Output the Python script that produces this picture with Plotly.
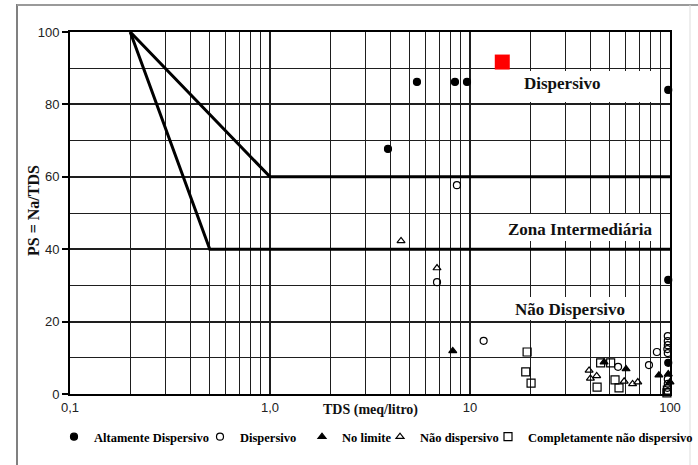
import plotly.graph_objects as go

# --- data (TDS in meq/litro, PS in %) ---
alt_disp_tds = [3.89, 5.43, 8.41, 9.66, 98.0, 98.0, 98.0]
alt_disp_ps = [67.7, 86.2, 86.2, 86.2, 84.0, 31.5, 8.6]

disp_tds = [8.6, 6.84, 11.7, 55.0, 78.5, 86.0, 97.5, 97.5, 97.5, 97.0, 97.5, 97.5, 97.5, 97.0, 97.5]
disp_ps = [57.7, 30.9, 14.7, 7.5, 8.0, 11.6, 16.0, 14.6, 13.5, 12.4, 11.3, 4.1, 2.8, 1.7, 0.6]

limite_tds = [8.2, 46.8, 60.3, 88.0, 98.0, 100.0]
limite_ps = [11.9, 8.8, 6.9, 5.2, 5.5, 3.3]

nao_disp_tds = [4.52, 6.84, 39.4, 40.0, 43.0, 59.0, 65.0, 69.0]
nao_disp_ps = [42.3, 34.8, 6.5, 4.3, 5.0, 3.5, 2.8, 3.3]

comp_nao_tds = [19.3, 19.0, 20.2, 45.0, 50.5, 43.2, 53.1, 55.6, 97.0, 96.5]
comp_nao_ps = [11.6, 6.1, 3.0, 8.6, 8.6, 1.9, 3.9, 1.7, 1.1, 0.3]

# zone boundaries
limite_sup_tds = [0.2, 1.0, 100.0]
limite_sup_ps = [100, 60, 60]
limite_inf_tds = [0.2, 0.5, 100.0]
limite_inf_ps = [100, 40, 40]

marcador_tds = [14.5]
marcador_ps = [91.7]

x_ticks = [0.1, 1, 10, 100]
x_ticktext = ["0,1", "1,0", "10", "100"]
y_ticks = [0, 20, 40, 60, 80, 100]
zonas = ["Dispersivo", "Zona Intermediária", "Não Dispersivo"]
legend_names = ["Altamente Dispersivo", "Dispersivo", "No limite",
                "Não dispersivo", "Completamente não dispersivo"]
x_title = "TDS (meq/litro)"
y_title = "PS = Na/TDS"

# --- layout geometry (pixels) ---
W, H = 698, 465
ML, MR, MT, MB = 70, 28, 32, 71
PW, PH = W - ML - MR, H - MT - MB


def px(x):
    return (x - ML) / PW


def py(y):
    return (H - MB - y) / PH


SERIF = "Liberation Serif"
SANS = "Liberation Sans"
GRID = "#1e1e1e"

fig = go.Figure()

for xs, ys in [(limite_sup_tds, limite_sup_ps), (limite_inf_tds, limite_inf_ps)]:
    fig.add_trace(go.Scatter(x=xs, y=ys, mode="lines", showlegend=False,
                             line=dict(color="black", width=3), hoverinfo="skip"))

series = [
    (alt_disp_tds, alt_disp_ps, "circle", 7, "legend"),
    (disp_tds, disp_ps, "circle-open", 7, "legend2"),
    (limite_tds, limite_ps, "triangle-up", 7, "legend3"),
    (nao_disp_tds, nao_disp_ps, "triangle-up-open", 7, "legend4"),
    (comp_nao_tds, comp_nao_ps, "square-open", 8, "legend5"),
]
for (xs, ys, sym, size, leg), name in zip(series, legend_names):
    fig.add_trace(go.Scatter(
        x=xs, y=ys, mode="markers", name=name, legend=leg,
        marker=dict(symbol=sym, color="black", size=size, line=dict(color="black", width=1.2)),
        cliponaxis=False))

fig.add_trace(go.Scatter(x=marcador_tds, y=marcador_ps, mode="markers", showlegend=False,
                         marker=dict(symbol="square", color="red", size=15)))

# white panels behind the zone names
boxes = [(473, 655, 71, 102), (500, 655, 214, 241), (505, 635, 297, 320)]
for x0, x1, y0, y1 in boxes:
    fig.add_shape(type="rect", xref="x domain", yref="y domain", layer="above",
                  x0=px(x0), x1=px(x1), y0=py(y1), y1=py(y0),
                  fillcolor="white", line=dict(width=0))

for txt, (cx, cy) in zip(zonas, [(562, 84), (580, 229), (570, 309)]):
    fig.add_annotation(text=f"<b>{txt}</b>", xref="paper", yref="paper",
                       x=px(cx), y=py(cy), xanchor="center", yanchor="middle",
                       showarrow=False,
                       font=dict(family=SERIF, size=17, color="#111"))

# axis titles
fig.add_annotation(text=f"<b>{x_title}</b>", xref="paper", yref="paper",
                   x=px(370), y=py(410), xanchor="center", yanchor="middle",
                   showarrow=False, font=dict(family=SERIF, size=14, color="#111"))
fig.add_annotation(text=f"<b>{y_title}</b>", xref="paper", yref="paper",
                   x=px(33), y=py(211), xanchor="center", yanchor="middle",
                   textangle=-90, showarrow=False,
                   font=dict(family=SERIF, size=16, color="#111"))

# outer frame
fig.add_shape(type="line", xref="paper", yref="paper", x0=px(17), x1=px(17),
              y0=py(4), y1=py(470), line=dict(color="#808080", width=2))
fig.add_shape(type="line", xref="paper", yref="paper", x0=px(17), x1=px(700),
              y0=py(5), y1=py(5), line=dict(color="#9a9a9a", width=2))
fig.add_shape(type="line", xref="paper", yref="paper", x0=px(690), x1=px(690),
              y0=py(5), y1=py(470), line=dict(color="#dddddd", width=1))

minor_x = [m * 10 ** e for e in (-1, 0, 1) for m in range(2, 10)]

# one legend per entry, placed on the container so they don't push the margins
leg_common = dict(orientation="h", yanchor="middle", xref="container", yref="container",
                  y=1 - 437 / H,
                  font=dict(family=SERIF, size=12.5, color="black", weight="bold"),
                  bgcolor="rgba(0,0,0,0)", itemwidth=30, tracegroupgap=0)
leg_left_x = [54, 200, 302, 380, None]
legends = {}
for i, lx in enumerate(leg_left_x):
    key = "legend" if i == 0 else f"legend{i + 1}"
    if lx is None:
        legends[key] = dict(leg_common, x=1.0, xanchor="right")
    else:
        legends[key] = dict(leg_common, x=lx / W, xanchor="left")

fig.update_layout(
    width=W, height=H,
    margin=dict(l=ML, r=MR, t=MT, b=MB, autoexpand=False),
    paper_bgcolor="white", plot_bgcolor="white",
    showlegend=True,
    xaxis=dict(type="log", range=[-1, 2], tickvals=x_ticks, ticktext=x_ticktext,
               showgrid=True, gridcolor=GRID, gridwidth=1.6,
               minor=dict(tickvals=minor_x, showgrid=True, gridcolor=GRID, gridwidth=1.4),
               showline=True, linecolor="black", linewidth=2, mirror=True,
               ticks="", tickfont=dict(family=SANS, size=13, color="#222"),
               zeroline=False),
    yaxis=dict(range=[0, 100], tickvals=y_ticks,
               showgrid=True, gridcolor=GRID, gridwidth=1.6,
               minor=dict(dtick=10, showgrid=True, gridcolor=GRID, gridwidth=1.4),
               showline=True, linecolor="black", linewidth=2, mirror=True,
               ticks="outside", ticklen=6, tickcolor="black", tickwidth=1.5,
               tickfont=dict(family=SANS, size=13, color="#222"),
               zeroline=False),
    **legends,
)

fig.write_html("out.html")
